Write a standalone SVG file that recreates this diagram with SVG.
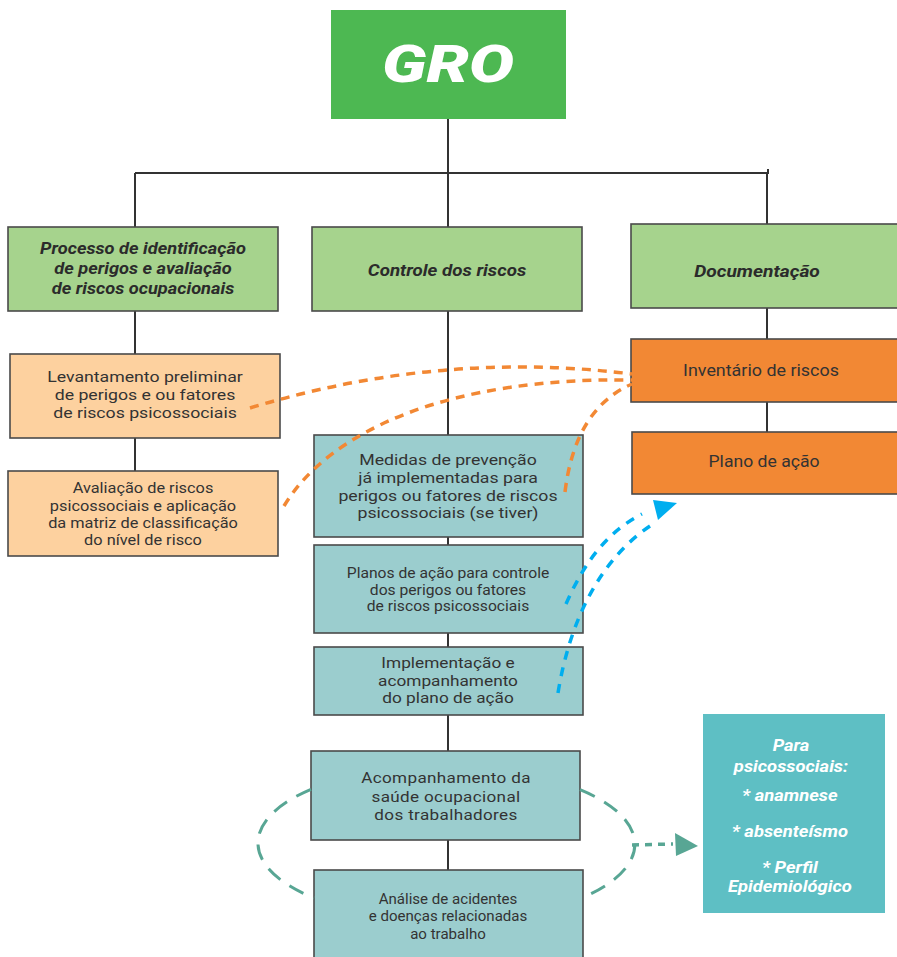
<svg xmlns="http://www.w3.org/2000/svg" width="897" height="957" viewBox="0 0 897 957">
<defs>
<style>
.bg{fill:#ffffff}
.box{stroke:#4a4a4a;stroke-width:1.6}
.gro{fill:#4DB852}
.lg{fill:#A6D38D}
.pe{fill:#FDD19F}
.tl{fill:#9BCDCE}
.or{fill:#F28834}
.cy{fill:#5EBFC4;stroke:none}
.h{font-family:Roboto,"Liberation Sans",sans-serif;font-weight:700;font-style:italic;font-size:16px;fill:#2b2b2b;text-anchor:middle}
.t{font-family:Roboto,"Liberation Sans",sans-serif;font-weight:400;font-size:15px;fill:#333;text-anchor:middle}
.ts{font-family:Roboto,"Liberation Sans",sans-serif;font-weight:400;font-size:14.5px;fill:#333;text-anchor:middle}
.w{font-family:Roboto,"Liberation Sans",sans-serif;font-weight:700;font-style:italic;font-size:16px;fill:#ffffff;text-anchor:middle}
.tree{stroke:#333;stroke-width:2;fill:none}
.od{stroke:#F28834;stroke-width:3.5;fill:none;stroke-dasharray:9 7}
.bd{stroke:#00AEEF;stroke-width:3.5;fill:none;stroke-dasharray:9 8}
.gd{stroke:#58A694;stroke-width:3;fill:none;stroke-dasharray:16 11}
.gs{stroke:#58A694;stroke-width:3.5;fill:none;stroke-dasharray:7 6}
</style>
</defs>
<rect class="bg" x="0" y="0" width="897" height="957"/>

<g id="tree-lines" class="tree">
<line x1="448" y1="119" x2="448" y2="173"/>
<line x1="135" y1="173" x2="769" y2="173"/>
<line x1="768" y1="169" x2="768" y2="173"/>
<line x1="135" y1="173" x2="135" y2="227"/>
<line x1="448" y1="173" x2="448" y2="227"/>
<line x1="767" y1="173" x2="767" y2="224"/>
<line x1="135" y1="311" x2="135" y2="354"/>
<line x1="135" y1="438" x2="135" y2="471"/>
<line x1="448" y1="311" x2="448" y2="435"/>
<line x1="448" y1="537" x2="448" y2="545"/>
<line x1="448" y1="633" x2="448" y2="647"/>
<line x1="448" y1="715" x2="448" y2="751"/>
<line x1="448" y1="840" x2="448" y2="870"/>
<line x1="767" y1="308" x2="767" y2="339"/>
<line x1="767" y1="402" x2="767" y2="432"/>
</g>

<g id="gro">
<rect class="gro" x="331" y="10" width="235" height="109"/>
<text x="448" y="82" textLength="132" lengthAdjust="spacingAndGlyphs" style="font-family:Roboto,'Liberation Sans',sans-serif;font-weight:900;font-style:italic;font-size:52px;fill:#fff;text-anchor:middle">GRO</text>
</g>

<g id="processo">
<rect class="box lg" x="8" y="227" width="270" height="84"/>
<g transform="translate(143 0) scale(1.14 1)">
<text class="h" x="0" y="254">Processo de identificação</text>
<text class="h" x="0" y="274">de perigos e avaliação</text>
<text class="h" x="0" y="294">de riscos ocupacionais</text>
</g>
</g>

<g id="controle">
<rect class="box lg" x="312" y="227" width="270" height="84"/>
<text class="h" x="0" y="276" transform="translate(447 0) scale(1.17 1)">Controle dos riscos</text>
</g>

<g id="documentacao">
<rect class="box lg" x="631" y="224" width="270" height="84"/>
<text class="h" x="0" y="277" transform="translate(757 0) scale(1.2 1)">Documentação</text>
</g>

<g id="levantamento">
<rect class="box pe" x="10" y="354" width="270" height="84"/>
<g transform="translate(145 0) scale(1.18 1)">
<text class="t" x="0" y="382">Levantamento preliminar</text>
<text class="t" x="0" y="400">de perigos e ou fatores</text>
<text class="t" x="0" y="418">de riscos psicossociais</text>
</g>
</g>

<g id="avaliacao">
<rect class="box pe" x="8" y="471" width="270" height="85"/>
<g transform="translate(143 0) scale(1.09 1)">
<text class="t" x="0" y="493">Avaliação de riscos</text>
<text class="t" x="0" y="511">psicossociais e aplicação</text>
<text class="t" x="0" y="528">da matriz de classificação</text>
<text class="t" x="0" y="545">do nível de risco</text>
</g>
</g>

<g id="medidas">
<rect class="box tl" x="314" y="435" width="269" height="102"/>
<g transform="translate(448 0) scale(1.18 1)">
<text class="t" x="0" y="465">Medidas de prevenção</text>
<text class="t" x="0" y="483">já implementadas para</text>
<text class="t" x="0" y="501">perigos ou fatores de riscos</text>
<text class="t" x="0" y="518">psicossociais (se tiver)</text>
</g>
</g>

<g id="planos">
<rect class="box tl" x="314" y="545" width="269" height="88"/>
<g transform="translate(448 0) scale(1.08 1)">
<text class="ts" x="0" y="578">Planos de ação para controle</text>
<text class="ts" x="0" y="595">dos perigos ou fatores</text>
<text class="ts" x="0" y="611">de riscos psicossociais</text>
</g>
</g>

<g id="implementacao">
<rect class="box tl" x="314" y="647" width="269" height="68"/>
<g transform="translate(448 0) scale(1.15 1)">
<text class="t" x="0" y="668">Implementação e</text>
<text class="t" x="0" y="686">acompanhamento</text>
<text class="t" x="0" y="703">do plano de ação</text>
</g>
</g>

<g id="acompanhamento">
<rect class="box tl" x="311" y="751" width="269" height="89"/>
<g transform="translate(446 0) scale(1.14 1)">
<text class="t" x="0" y="783" style="letter-spacing:0.3px">Acompanhamento da</text>
<text class="t" x="0" y="802" style="letter-spacing:0.3px">saúde ocupacional</text>
<text class="t" x="0" y="820" style="letter-spacing:0.3px">dos trabalhadores</text>
</g>
</g>

<g id="analise">
<rect class="box tl" x="314" y="870" width="269" height="90"/>
<g transform="translate(448 0) scale(1.04 1)">
<text class="ts" x="0" y="904">Análise de acidentes</text>
<text class="ts" x="0" y="921">e doenças relacionadas</text>
<text class="ts" x="0" y="939">ao trabalho</text>
</g>
</g>

<g id="inventario">
<rect class="box or" x="631" y="339" width="270" height="63"/>
<text class="t" x="0" y="376" transform="translate(761 0) scale(1.12 1)" style="font-size:16px">Inventário de riscos</text>
</g>

<g id="plano-acao">
<rect class="box or" x="632" y="432" width="270" height="62"/>
<text class="t" x="0" y="467" transform="translate(764 0) scale(1.1 1)" style="font-size:16px">Plano de ação</text>
</g>

<g id="psicossociais">
<rect class="cy" x="703" y="714" width="182" height="199"/>
<g transform="translate(791 0) scale(1.15 1)">
<text class="w" x="0" y="751">Para</text>
<text class="w" x="0" y="772">psicossociais:</text>
<text class="w" x="-1" y="801">* anamnese</text>
<text class="w" x="-1" y="837">* absenteísmo</text>
<text class="w" x="-1" y="873">* Perfil</text>
<text class="w" x="-1" y="892">Epidemiológico</text>
</g>
</g>

<g id="connectors">
<path class="od" d="M250,408 Q440,350 632,374"/>
<path class="od" d="M284,506 C330,430 450,377 632,380"/>
<path class="od" d="M565,492 C572,435 595,400 632,384"/>
<path class="bd" d="M566,604 C585,560 610,530 642,514"/>
<path class="bd" d="M558,693 C570,620 600,560 650,526"/>
<polygon points="653,500 677,503 658,520" fill="#00AEEF"/>
<path class="gd" d="M311,789.3 A187,77 0 0 0 314,898"/>
<path class="gd" d="M580,789.7 A187,77 0 0 1 583,897.4"/>
<path class="gs" d="M632,845 L673,844"/>
<polygon points="675,833 698,846 676,856" fill="#58A694"/>
</g>
</svg>
